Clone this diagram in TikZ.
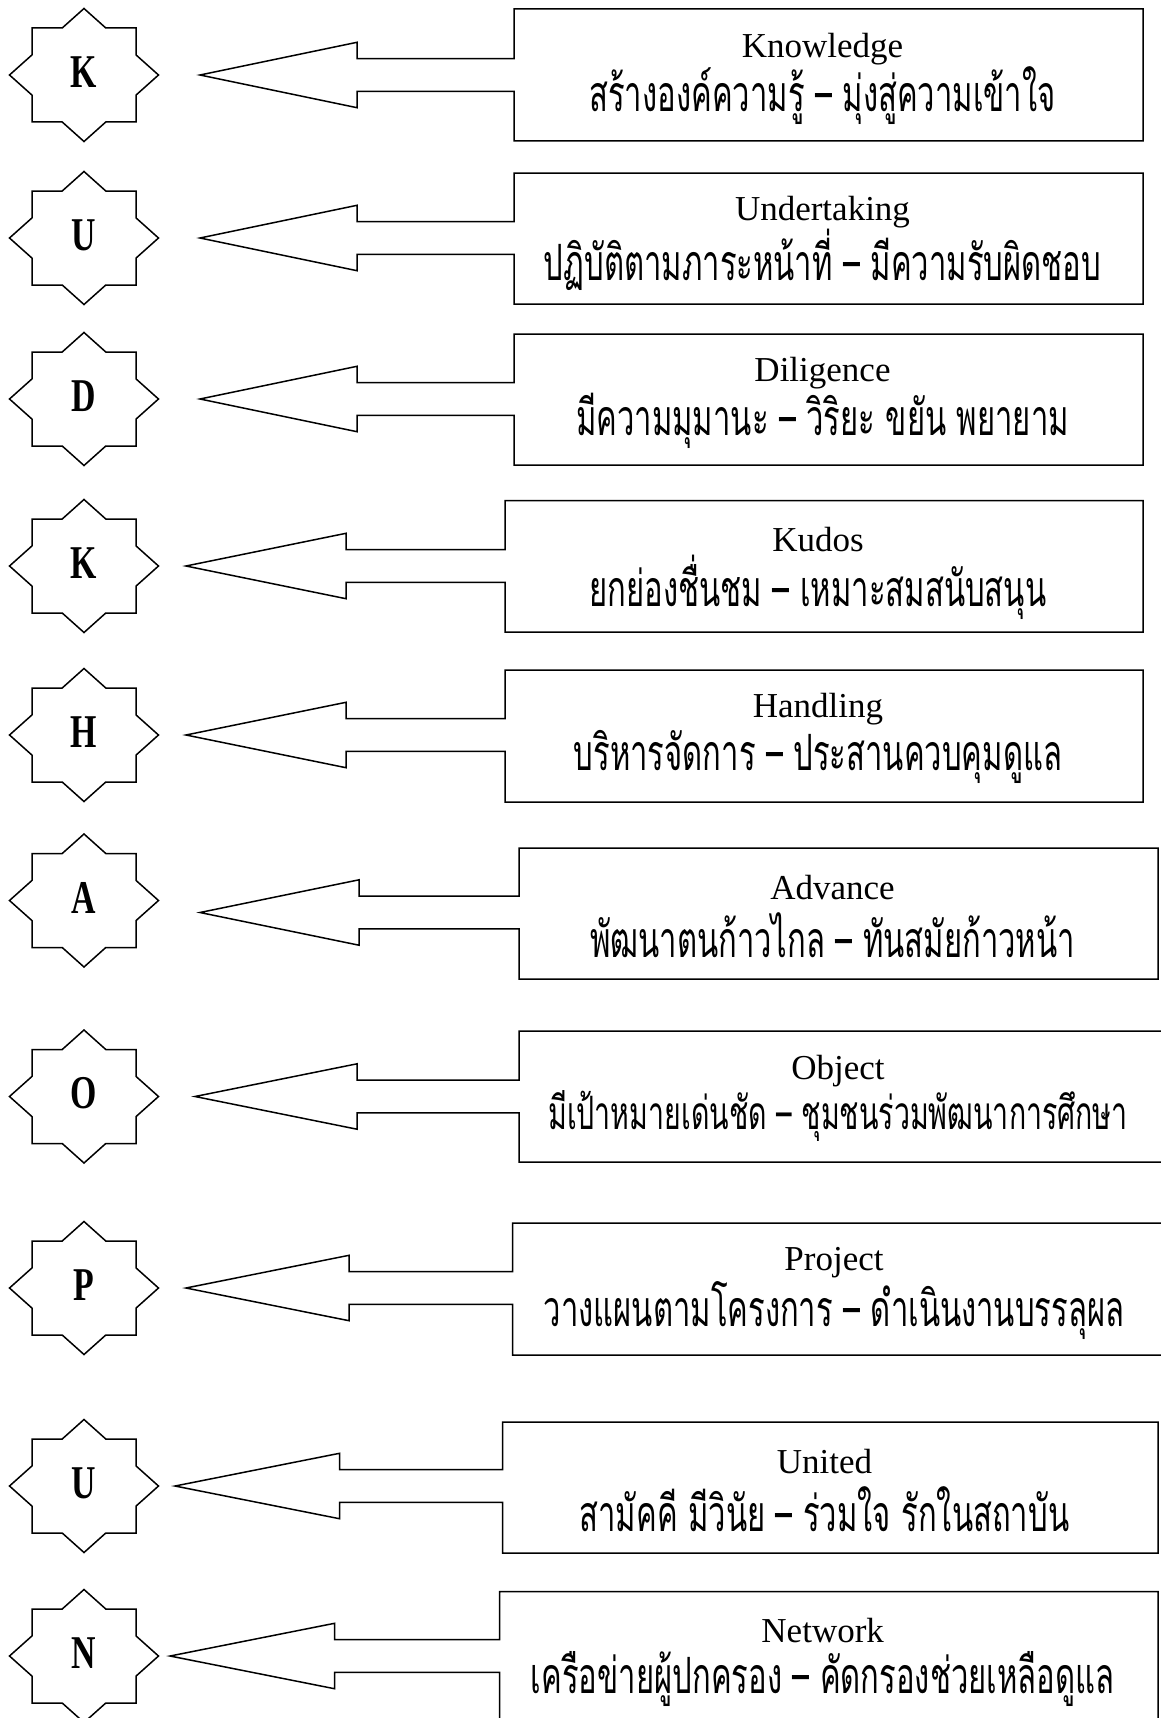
\documentclass[tikz,border=0pt]{standalone}
\usepackage{fontspec}
\setmainfont{Liberation Serif}
\newfontfamily\thaifont[Script=Thai,FakeStretch=0.62]{Loma}
\newfontfamily\letterfont[FakeStretch=0.72]{Liberation Serif}
\usetikzlibrary{fit,calc}
\tikzset{
  outline/.style={draw=black, line width=0.75pt, line join=miter},
  ltr/.style={font=\letterfont\bfseries\fontsize{23.5}{26}\selectfont, inner sep=0pt},
  eng/.style={font=\fontsize{17.5}{20}\selectfont, inner sep=0pt, yshift=-1.5pt},
  thai/.style={font=\thaifont\fontsize{25}{28}\selectfont, inner sep=0pt},
  thaismall/.style={font=\thaifont\fontsize{23}{26}\selectfont, inner sep=0pt},
  area/.style={inner sep=0pt, outer sep=0pt}
}
\newcommand\starat[1]{\draw[outline,shift={(#1)}] (0,-66.5) -- (21.8,-47) -- (52,-47) -- (52,-20.1) -- (74.5,0) -- (52,20.1) -- (52,47) -- (21.8,47) -- (0,66.5) -- (-21.8,47) -- (-52,47) -- (-52,20.1) -- (-74.5,0) -- (-52,-20.1) -- (-52,-47) -- (-21.8,-47) -- cycle;}
\newcommand\callout[3]{\draw[outline] (#2) -- ++(#3,-32.7) -- ++(0,16.35) -| (#1.north west) -- (#1.north east) -- (#1.south east) -- (#1.south west) |- ($(#2)+(#3,16.35)$) -- ++(0,16.35) -- cycle;}
\begin{document}
\begin{tikzpicture}[x=0.5pt,y=-0.5pt]
\useasboundingbox[fill=white] (0,0) rectangle (1161,1718);
% Row 1
\coordinate (c1) at (84,75); \starat{c1}
\node[ltr] (l1) at (84,72) {K};
\coordinate (t1) at (200,75);
\node[area, fit={(514,9) (1143,141)}] (b1) {};
\callout{b1}{t1}{157}
\node[eng] (e1) at (822.5,46) {Knowledge};
\node[thai] (h1) at (822.5,96) {สร้างองค์ความรู้ – มุ่งสู่ความเข้าใจ};
% Row 2
\coordinate (c2) at (84,238); \starat{c2}
\node[ltr] (l2) at (84,235) {U};
\coordinate (t2) at (200,238);
\node[area, fit={(514,173) (1143,304)}] (b2) {};
\callout{b2}{t2}{157}
\node[eng] (e2) at (822.5,209.5) {Undertaking};
\node[thai] (h2) at (822.5,260) {ปฏิบัติตามภาระหน้าที่ – มีความรับผิดชอบ};
% Row 3
\coordinate (c3) at (84,399); \starat{c3}
\node[ltr] (l3) at (84,396) {D};
\coordinate (t3) at (200,399);
\node[area, fit={(514,334) (1143,465)}] (b3) {};
\callout{b3}{t3}{157}
\node[eng] (e3) at (822.5,370.5) {Diligence};
\node[thai] (h3) at (822.5,421) {มีความมุมานะ – วิริยะ ขยัน พยายาม};
% Row 4
\coordinate (c4) at (84,566); \starat{c4}
\node[ltr] (l4) at (84,563) {K};
\coordinate (t4) at (186,566);
\node[area, fit={(505,500.5) (1143,632)}] (b4) {};
\callout{b4}{t4}{160}
\node[eng] (e4) at (818,537) {Kudos};
\node[thai] (h4) at (818,587.5) {ยกย่องชื่นชม – เหมาะสมสนับสนุน};
% Row 5
\coordinate (c5) at (84,735); \starat{c5}
\node[ltr] (l5) at (84,732) {H};
\coordinate (t5) at (186,735);
\node[area, fit={(505,670) (1143,802)}] (b5) {};
\callout{b5}{t5}{160}
\node[eng] (e5) at (818,706.5) {Handling};
\node[thai] (h5) at (818,757) {บริหารจัดการ – ประสานควบคุมดูแล};
% Row 6
\coordinate (c6) at (84,900.5); \starat{c6}
\node[ltr] (l6) at (84,897.5) {A};
\coordinate (t6) at (200,912.5);
\node[area, fit={(519,848) (1158,979)}] (b6) {};
\callout{b6}{t6}{159}
\node[eng] (e6) at (832.5,884.5) {Advance};
\node[thai] (h6) at (832.5,935) {พัฒนาตนก้าวไกล – ทันสมัยก้าวหน้า};
% Row 7
\coordinate (c7) at (84,1096.5); \starat{c7}
\node[ltr] (l7) at (84,1093.5) {O};
\coordinate (t7) at (195,1096.5);
\node[area, fit={(519,1031) (1180,1162)}] (b7) {};
\callout{b7}{t7}{162}
\node[eng] (e7) at (838,1068) {Object};
\node[thaismall] (h7) at (838,1116) {มีเป้าหมายเด่นชัด – ชุมชนร่วมพัฒนาการศึกษา};
% Row 8
\coordinate (c8) at (84,1288); \starat{c8}
\node[ltr] (l8) at (84,1285) {P};
\coordinate (t8) at (186,1288);
\node[area, fit={(512.6,1223) (1180,1355)}] (b8) {};
\callout{b8}{t8}{163}
\node[eng] (e8) at (834,1260) {Project};
\node[thai] (h8) at (834,1310) {วางแผนตามโครงการ – ดำเนินงานบรรลุผล};
% Row 9
\coordinate (c9) at (84,1486); \starat{c9}
\node[ltr] (l9) at (84,1483) {U};
\coordinate (t9) at (175,1486);
\node[area, fit={(502.7,1422) (1158,1553)}] (b9) {};
\callout{b9}{t9}{164.5}
\node[eng] (e9) at (824.4,1458.5) {United};
\node[thai] (h9) at (824.4,1509) {สามัคคี มีวินัย – ร่วมใจ รักในสถาบัน};
% Row 10
\coordinate (c10) at (84,1656); \starat{c10}
\node[ltr] (l10) at (84,1653) {N};
\coordinate (t10) at (170,1656);
\node[area, fit={(499.5,1591.5) (1158,1723)}] (b10) {};
\callout{b10}{t10}{164.5}
\node[eng] (e10) at (822.7,1628) {Network};
\node[thai] (h10) at (822.7,1679) {เครือข่ายผู้ปกครอง – คัดกรองช่วยเหลือดูแล};
\end{tikzpicture}
\end{document}
